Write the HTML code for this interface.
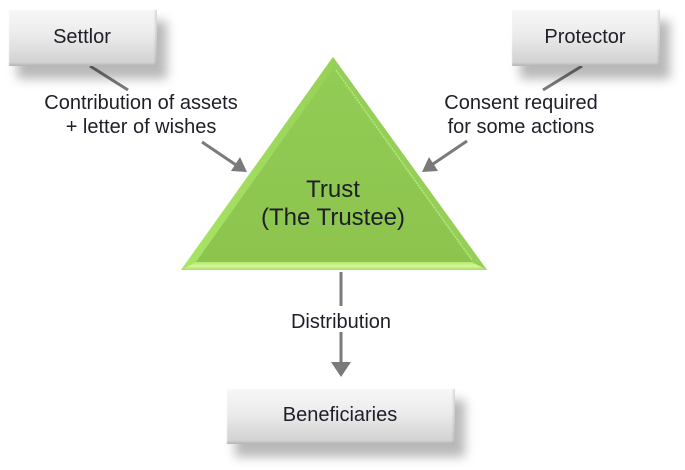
<!DOCTYPE html>
<html><head><meta charset="utf-8">
<style>
html,body{margin:0;padding:0;background:#fff;}
body{width:685px;height:470px;position:relative;overflow:hidden;font-family:"Liberation Sans",Arial,sans-serif;color:#1e1e28;}
.box{position:absolute;box-sizing:border-box;background:linear-gradient(#f8f8f8 0%,#ececec 45%,#cfcfcf 100%);
box-shadow:10px 13px 10px rgba(0,0,0,0.28), inset 2px 2px 1px #fff, inset -2px -2px 2px rgba(0,0,0,0.12);
font-size:20px;text-align:center;}
.t{position:absolute;font-size:20px;line-height:24px;text-align:center;white-space:nowrap;}
</style></head><body>
<svg width="685" height="470" style="position:absolute;left:0;top:0">
  <defs>
    <linearGradient id="bot" x1="0" y1="0" x2="0" y2="1">
      <stop offset="0" stop-color="#b4e772"/>
      <stop offset="0.5" stop-color="#d4f79a"/>
      <stop offset="1" stop-color="#a6de62"/>
    </linearGradient>
    <linearGradient id="lf" x1="0" y1="0" x2="1" y2="0">
      <stop offset="0" stop-color="#a9e466"/>
      <stop offset="1" stop-color="#96d256"/>
    </linearGradient>
    <linearGradient id="fill" x1="0" y1="0" x2="0" y2="1">
      <stop offset="0" stop-color="#92cc55"/>
      <stop offset="1" stop-color="#8cc44e"/>
    </linearGradient>
  </defs>
  <!-- triangle outer -->
  <polygon points="333,57 181,270 487,270" fill="#9bd65c"/>
  <!-- left bevel -->
  <polygon points="333,57 181,270 196,262 333,69" fill="url(#lf)"/>
  <!-- right bevel -->
  <polygon points="333,57 487,270 472,262 333,69" fill="#95cf58"/>
  <!-- bottom bevel -->
  <polygon points="181,270 487,270 472,262 196,262" fill="url(#bot)"/>
  <!-- inner -->
  <polygon points="333,69 196,262 472,262" fill="url(#fill)"/>
  <line x1="336" y1="70" x2="472" y2="260" stroke="#c4eb92" stroke-width="1" stroke-dasharray="2,1"/>

  <!-- connectors -->
  <g stroke="#7a7a7a" stroke-width="3" fill="none">
    <line x1="90" y1="66" x2="128" y2="90"/>
    <line x1="202" y1="142" x2="236" y2="165"/>
    <line x1="582" y1="66" x2="543" y2="90"/>
    <line x1="467" y1="141" x2="433" y2="164"/>
    <line x1="341" y1="272" x2="341" y2="306"/>
    <line x1="341" y1="332" x2="341" y2="364"/>
  </g>
  <g fill="#7a7a7a">
    <polygon points="247,172 231,171 240,157"/>
    <polygon points="422,172 429,157 438,171"/>
    <polygon points="341,377 331,362 351,362"/>
  </g>
</svg>

<div class="box" style="left:7px;top:8px;width:150px;height:58px;line-height:58px;">Settlor</div>
<div class="box" style="left:510px;top:8px;width:150px;height:58px;line-height:58px;">Protector</div>
<div class="box" style="left:225px;top:387px;width:230px;height:57px;line-height:56px;">Beneficiaries</div>

<div class="t" style="left:41px;top:91px;width:200px;">Contribution of assets<br>+ letter of wishes</div>
<div class="t" style="left:421px;top:91px;width:200px;">Consent required<br>for some actions</div>
<div class="t" style="left:233px;top:176px;width:200px;font-size:24px;line-height:28px;">Trust<br>(The Trustee)</div>
<div class="t" style="left:245px;top:310px;width:192px;">Distribution</div>
</body></html>
